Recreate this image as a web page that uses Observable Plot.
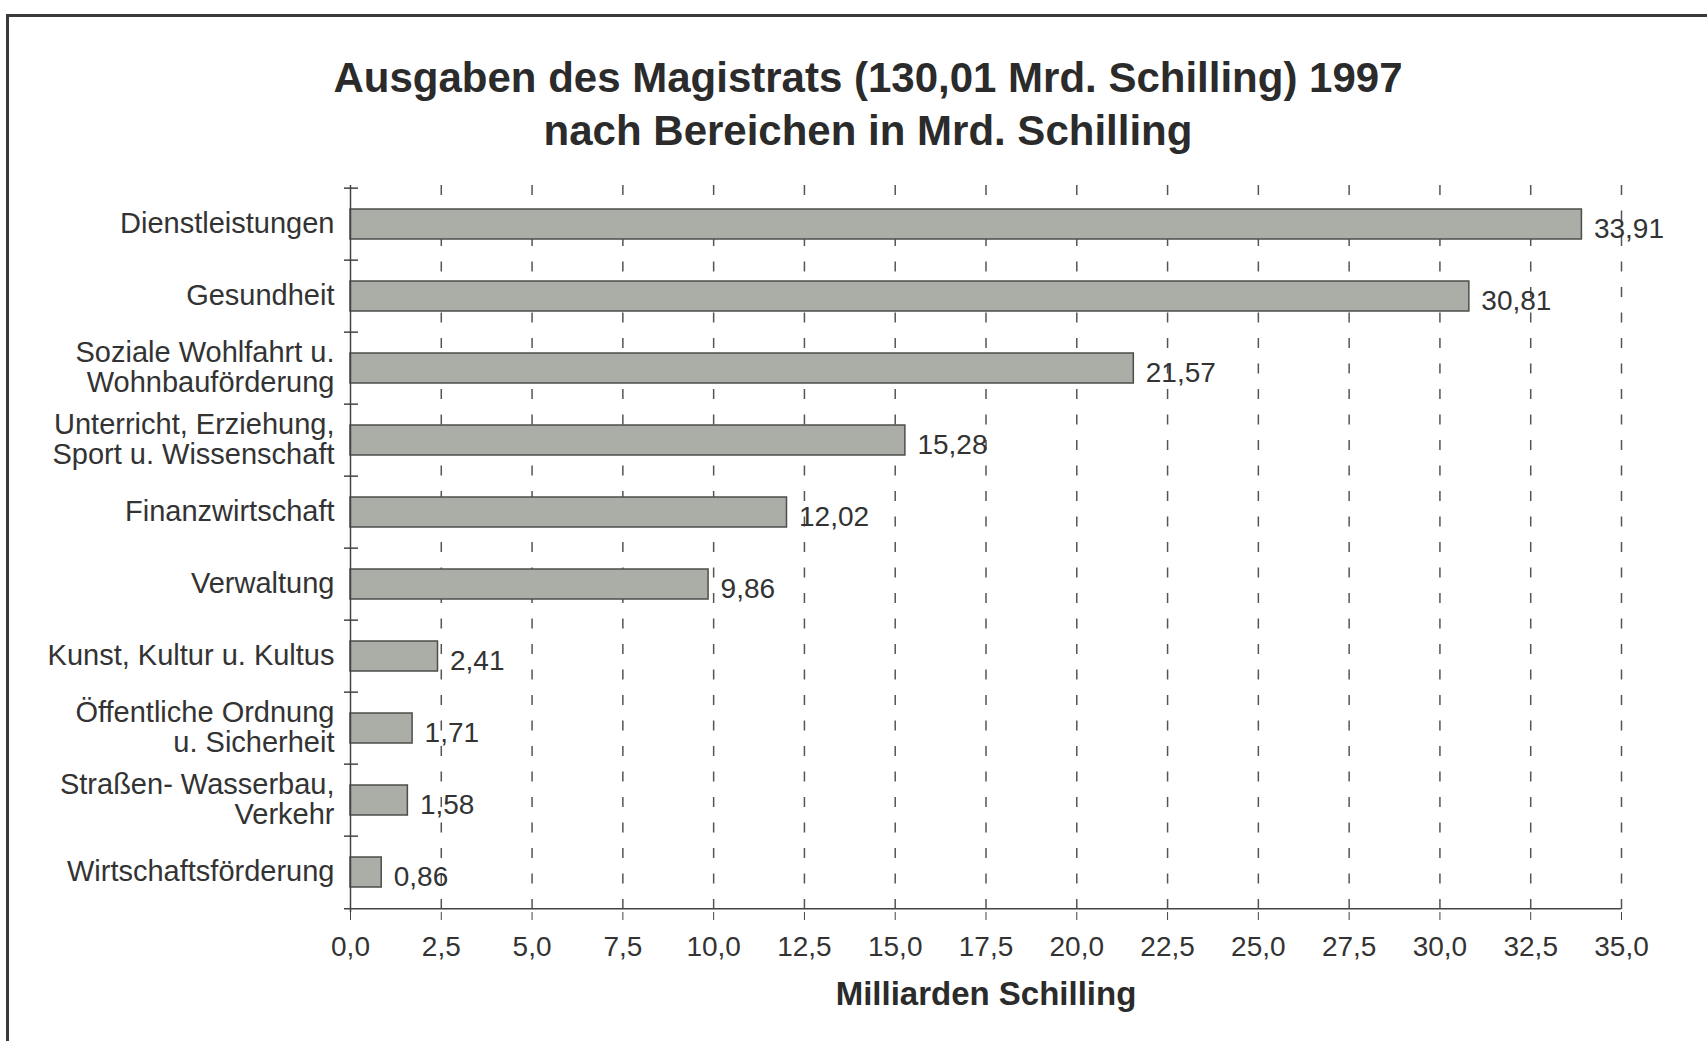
<!DOCTYPE html>
<html>
<head>
<meta charset="utf-8">
<script src="https://cdn.jsdelivr.net/npm/d3@7"></script>
<script src="https://cdn.jsdelivr.net/npm/@observablehq/plot@0.6"></script>
<style>
  html, body { margin: 0; padding: 0; background: #fff; }
  #page { position: relative; width: 1707px; height: 1041px; overflow: hidden; background: #fff;
          font-family: "Liberation Sans", Arial, Helvetica, sans-serif; }
  #frame { position: absolute; left: 6px; top: 14px; right: -10px; bottom: -10px;
           border-left: 3px solid #3a3a3a; border-top: 3px solid #3a3a3a; }
  #title { position: absolute; top: 52px; left: 868px; transform: translateX(-50%);
           white-space: nowrap; text-align: center; font-weight: bold; font-size: 42px;
           line-height: 52.5px; color: #2b2b2b; }
  #chart { position: absolute; top: 170px; left: 0; }
</style>
</head>
<body>
<div id="page">
  <div id="frame"></div>
  <div id="title">Ausgaben des Magistrats (130,01 Mrd. Schilling) 1997<br>nach Bereichen in Mrd. Schilling</div>
  <div id="chart"></div>
</div>
<script>
const categories = [
  "Dienstleistungen",
  "Gesundheit",
  "Soziale Wohlfahrt u.\nWohnbauförderung",
  "Unterricht, Erziehung,\nSport u. Wissenschaft",
  "Finanzwirtschaft",
  "Verwaltung",
  "Kunst, Kultur u. Kultus",
  "Öffentliche Ordnung\nu. Sicherheit",
  "Straßen- Wasserbau,\nVerkehr",
  "Wirtschaftsförderung"
];
const values = [33.91, 30.81, 21.57, 15.28, 12.02, 9.86, 2.41, 1.71, 1.58, 0.86];
const xTicks = [0, 2.5, 5, 7.5, 10, 12.5, 15, 17.5, 20, 22.5, 25, 27.5, 30, 32.5, 35];
const xLabel = "Milliarden Schilling";

const data = categories.map((c, i) => ({name: c, value: values[i]}));
const comma = (v, n) => v.toFixed(n).replace(".", ",");

const W = 1707, H = 871, mT = 15, mB = 129, mL = 350, mR = 86;
const step = (H - mT - mB) / categories.length;
const ink = "#444";

const chart = Plot.plot({
  width: W, height: H,
  marginLeft: mL, marginRight: mR, marginTop: mT, marginBottom: mB,
  x: {domain: [0, 35], label: null},
  y: {domain: categories, paddingInner: 0.58, paddingOuter: 0.29, label: null},
  style: {fontFamily: '"Liberation Sans", Arial, Helvetica, sans-serif', color: "#333", background: "transparent", overflow: "visible"},
  marks: [
    Plot.ruleX(xTicks.filter(d => d > 0), {stroke: "#555", strokeWidth: 1.5, strokeDasharray: "10,15.5"}),
    Plot.barX(data, {x: "value", y: "name", fill: "#abada7", stroke: "#4d4d4b", strokeWidth: 1.5}),
    Plot.ruleX([0], {stroke: ink, strokeWidth: 1.5}),
    Plot.ruleY(categories, {y: d => d, x1: 0, x2: 0, dy: -step / 2, insetLeft: -6, insetRight: -8, stroke: ink, strokeWidth: 1.5}),
    Plot.ruleY([categories[categories.length - 1]], {y: d => d, x1: 0, x2: 35, dy: step / 2, insetLeft: -6, stroke: ink, strokeWidth: 1.5}),
    Plot.axisX({ticks: xTicks, tickFormat: d => comma(d, 1), tickSize: 8, tickPadding: 16, fontSize: 28, stroke: ink, label: null}),
    Plot.axisY({tickSize: 0, tickPadding: 16, fontSize: 29, label: null, lineHeight: 1.02, dy: -1}),
    Plot.text(data, {x: "value", y: "name", text: d => comma(d.value, 2), textAnchor: "start", dx: 12, dy: 5, fontSize: 28, fill: "#333"}),
    Plot.text([xLabel], {frameAnchor: "bottom", dy: 92, fontSize: 33, fontWeight: "bold", fill: "#2b2b2b"})
  ]
});
document.getElementById("chart").appendChild(chart);
</script>
</body>
</html>
